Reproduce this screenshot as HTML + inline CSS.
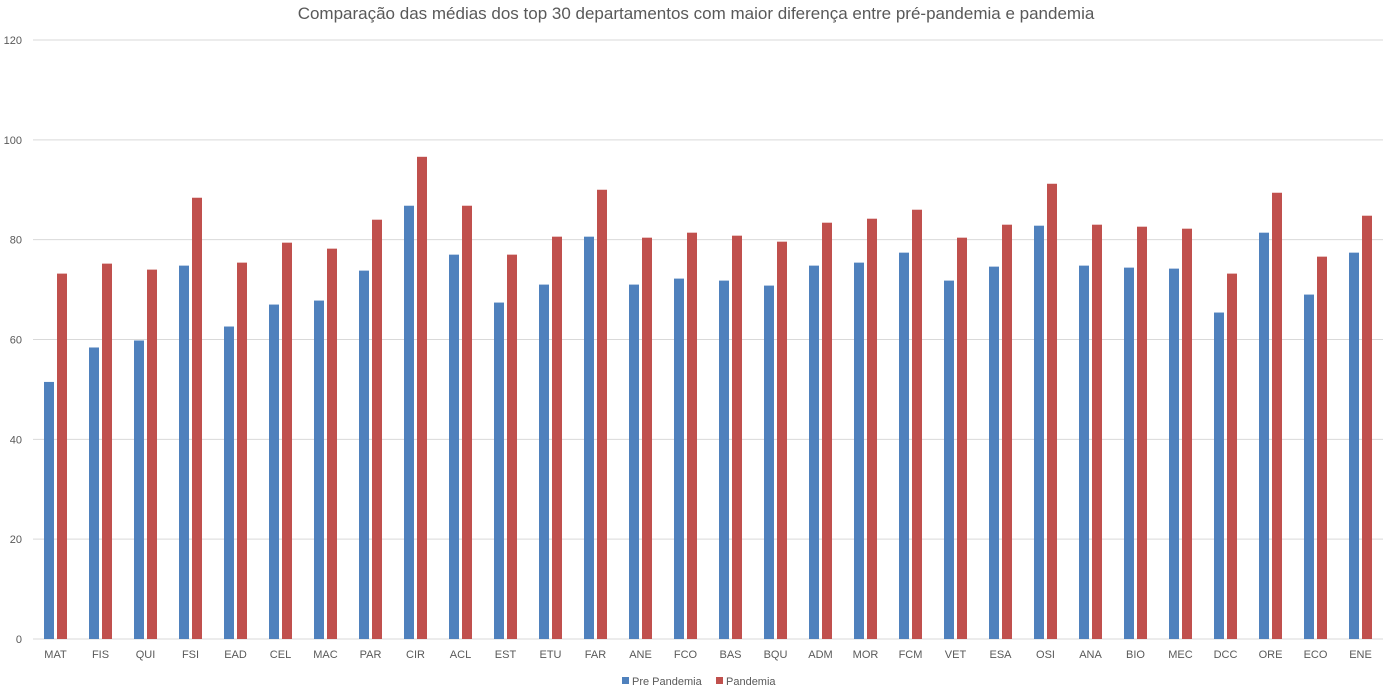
<!DOCTYPE html>
<html><head><meta charset="utf-8"><style>
body{margin:0;background:#fff;font-family:"Liberation Sans",sans-serif}
svg text{font-family:"Liberation Sans",sans-serif}
</style></head><body>
<svg id="chart" width="1386" height="694" xmlns="http://www.w3.org/2000/svg">
<text x="696" y="19" text-anchor="middle" font-size="17" fill="#595959">Comparação das médias dos top 30 departamentos com maior diferença entre pré-pandemia e pandemia</text>
<g id="grid"></g><g id="bars"></g><g id="xlabels"></g>
<g>
<rect x="622" y="677" width="7" height="7" fill="#4f81bd"/>
<text x="632" y="685" font-size="11" fill="#595959">Pre Pandemia</text>
<rect x="716" y="677" width="7" height="7" fill="#c0504d"/>
<text x="726" y="685" font-size="11" fill="#595959">Pandemia</text>
</g>
</svg>
<script>
const categories=["MAT","FIS","QUI","FSI","EAD","CEL","MAC","PAR","CIR","ACL","EST","ETU","FAR","ANE","FCO","BAS","BQU","ADM","MOR","FCM","VET","ESA","OSI","ANA","BIO","MEC","DCC","ORE","ECO","ENE"];
const prePandemia=[51.5,58.4,59.8,74.8,62.6,67,67.8,73.8,86.8,77,67.4,71,80.6,71,72.2,71.8,70.8,74.8,75.4,77.4,71.8,74.6,82.8,74.8,74.4,74.2,65.4,81.4,69,77.4];
const pandemia=[73.2,75.2,74,88.4,75.4,79.4,78.2,84,96.6,86.8,77,80.6,90,80.4,81.4,80.8,79.6,83.4,84.2,86,80.4,83,91.2,83,82.6,82.2,73.2,89.4,76.6,84.8];
const yTicks=[0,20,40,60,80,100,120];
const NS="http://www.w3.org/2000/svg";
const x0=33,x1=1383,y0=639,yTop=40,yMax=120;
const y=v=>y0-(v/yMax)*(y0-yTop);
const band=(x1-x0)/categories.length;
const xc=i=>x0+band*(i+0.5);
function mk(tag,attrs,parent,txt){const e=document.createElementNS(NS,tag);for(const k in attrs)e.setAttribute(k,attrs[k]);if(txt!==undefined)e.textContent=txt;document.getElementById(parent).appendChild(e);return e;}
yTicks.forEach(t=>{
  const l=mk('line',{x1:x0,x2:x1,y1:y(t),y2:y(t),stroke:'#d9d9d9','stroke-width':1},'grid');
  
  
  const tx=mk('text',{x:22,y:y(t)+4,'text-anchor':'end','font-size':11,fill:'#595959'},'grid',t);
  
  
});
categories.forEach((c,i)=>{
  const b1=mk('rect',{x:xc(i)-11.5,y:y(prePandemia[i]),width:10,height:y0-y(prePandemia[i]),fill:'#4f81bd'},'bars');
  
  
  const b2=mk('rect',{x:xc(i)+1.5,y:y(pandemia[i]),width:10,height:y0-y(pandemia[i]),fill:'#c0504d'},'bars');
  
  
  const t=mk('text',{x:xc(i),y:658,'text-anchor':'middle','font-size':11,fill:'#595959'},'xlabels',c);
  
  
});
</script>
</body></html>
